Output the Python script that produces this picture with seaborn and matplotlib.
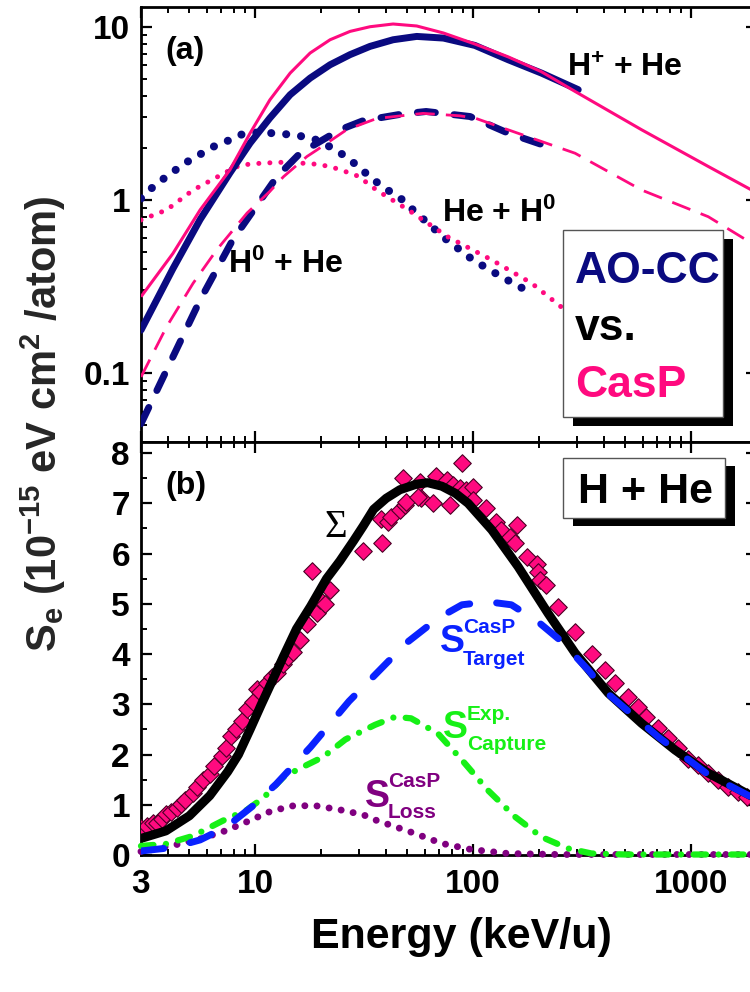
import numpy as np
import matplotlib
matplotlib.use("Agg")
import matplotlib.pyplot as plt
import seaborn as sns
from matplotlib.patches import Rectangle
from matplotlib.ticker import LogLocator, MultipleLocator, NullFormatter

# ---------------- data : panel (a) ----------------
e_hp_aocc = [3, 4.2, 5.6, 7.67, 9.5, 11.7, 14.5, 17.9, 22.1, 27.3, 33.7, 43, 55.2, 73.2, 102, 145, 206, 304]
s_hp_aocc = [0.177, 0.40, 0.77, 1.43, 2.13, 2.97, 4.05, 5.05, 6.03, 6.9, 7.7, 8.41, 8.79, 8.6, 7.8, 6.45, 5.4, 4.33]

e_hp_casp = [3, 4.2, 5.6, 7.67, 9.5, 11.7, 14.5, 17.9, 22.1, 27.3, 33.7, 43, 55.2, 73.2, 102, 145, 206, 294, 594, 1200, 2000]
s_hp_casp = [0.276, 0.49, 0.875, 1.49, 2.43, 3.78, 5.4, 7.05, 8.41, 9.4, 10.0, 10.37, 10.1, 9.2, 7.95, 6.7, 5.5, 4.23, 2.54, 1.56, 1.1]

e_h0_aocc = [3, 4.07, 5.6, 7.9, 12.6, 16.1, 24.5, 31.4, 47.8, 61, 97, 145, 229]
s_h0_aocc = [0.051, 0.114, 0.264, 0.587, 1.36, 1.86, 2.54, 2.87, 3.14, 3.24, 3.03, 2.43, 2.0]

e_h0_casp = [3, 3.93, 5.2, 6.67, 9.2, 11.7, 13.5, 17.3, 19.2, 26.3, 36.1, 59, 87, 102, 145, 294, 594, 1200, 2000]
s_h0_casp = [0.095, 0.185, 0.33, 0.514, 0.84, 1.12, 1.36, 1.78, 1.94, 2.54, 2.95, 3.16, 3.06, 2.97, 2.54, 1.86, 1.14, 0.80, 0.54]

e_he_aocc = [3, 3.48, 4.77, 6.45, 7.67, 8.6, 10.2, 11.9, 13.7, 16.1, 18.8, 21.7, 25.4, 29.8, 34.3, 40.2, 47, 54.2, 74.3, 100, 135, 185]
s_he_aocc = [1.02, 1.22, 1.63, 2.03, 2.22, 2.38, 2.45, 2.43, 2.4, 2.34, 2.24, 2.05, 1.82, 1.56, 1.33, 1.15, 1.01, 0.855, 0.60, 0.45, 0.36, 0.29]

e_he_casp = [3, 3.93, 5.2, 7.7, 8.6, 10.7, 13.5, 16.4, 18.8, 22.1, 25.9, 29.8, 32.5, 36.1, 50.5, 77, 122, 186, 255]
s_he_casp = [0.766, 0.875, 1.14, 1.49, 1.59, 1.63, 1.65, 1.63, 1.61, 1.56, 1.46, 1.37, 1.26, 1.14, 0.875, 0.61, 0.45, 0.33, 0.24]

# ---------------- data : panel (b) ----------------
e_sum = [3, 3.9, 5.0, 6.2, 7.5, 8.4, 9.5, 10.7, 12.1, 13.5, 15.5, 18.0, 21.3, 24.5, 28.3, 31.4,
         35.0, 40, 46.2, 55, 62, 72, 83, 95, 122, 161, 221, 294, 418, 594, 845, 1200, 2000]
s_sum = [0.33, 0.48, 0.78, 1.18, 1.66, 2.0, 2.5, 3.0, 3.5, 3.95, 4.5, 4.95, 5.5, 5.85, 6.25, 6.55,
         6.88, 7.1, 7.27, 7.38, 7.41, 7.34, 7.2, 7.0, 6.47, 5.74, 4.81, 4.02, 3.22, 2.62, 2.09, 1.63, 1.12]

e_target = [3, 4.2, 5.6, 7.4, 9.8, 12.5, 18, 27, 34, 40.8, 50.5, 69, 89, 117, 150, 199, 255, 338, 418, 708, 1200, 2000]
s_target = [0.08, 0.15, 0.3, 0.56, 0.98, 1.41, 2.15, 3.06, 3.5, 3.85, 4.25, 4.71, 4.98, 5.04, 4.98, 4.64, 4.25, 3.68, 3.2, 2.35, 1.6, 1.1]

e_capture = [3, 3.9, 5.2, 7.1, 9.2, 11, 13.5, 16, 20.5, 26, 35.5, 44, 52, 69, 89, 117, 156, 206, 273, 350, 500, 2000]
s_capture = [0.18, 0.22, 0.38, 0.68, 0.9, 1.15, 1.55, 1.72, 1.95, 2.3, 2.59, 2.75, 2.72, 2.42, 1.89, 1.29, 0.76, 0.36, 0.13, 0.03, 0.01, 0.01]

e_loss = [3, 4.2, 5.6, 7.3, 9.4, 11.8, 15, 19, 24.5, 31.4, 35.5, 54, 72, 98, 145, 250, 2000]
s_loss = [0.07, 0.19, 0.32, 0.48, 0.68, 0.87, 0.98, 0.98, 0.9, 0.8, 0.7, 0.43, 0.23, 0.11, 0.03, 0.01, 0.01]

exp_e = [3.0, 3.2, 3.4, 3.55, 3.75, 3.9, 4.1, 4.37, 4.6, 4.8, 5.2, 5.4, 5.8, 6.2, 6.5, 7.06, 7.4, 7.8,
         8.2, 8.7, 9.2, 9.8, 10.2, 10.5, 11.3, 12.0, 12.6, 13.5, 14.2, 15.0, 16.1, 17.3, 18.2, 19.2,
         19.9, 21.0, 22.0, 31.4, 38.1, 37.8, 40.8, 42, 46.2, 49, 48, 49.5, 57, 58, 56, 65.7, 68, 75.7,
         78.4, 81, 87, 89, 93, 100, 100, 115, 128, 135, 148, 159, 156, 176, 196, 199, 203, 217, 246,
         294, 350, 403, 448, 515, 573, 625, 708, 787, 875, 973, 1081, 1200, 1334, 1483, 1648, 1800]
exp_s = [0.53, 0.58, 0.64, 0.63, 0.72, 0.82, 0.85, 0.93, 1.02, 1.09, 1.24, 1.36, 1.49, 1.62, 1.77, 1.97, 2.12, 2.36,
         2.5, 2.67, 2.9, 3.05, 3.3, 3.25, 3.42, 3.55, 3.62, 3.81, 3.95, 4.05, 4.28, 4.6, 5.65, 4.81,
         5.07, 5.0, 5.27, 6.05, 6.2, 6.68, 6.62, 6.73, 6.87, 6.97, 7.5, 7.03, 7.42, 7.1, 7.13, 7.0, 7.55, 7.46,
         6.97, 7.36, 7.30, 7.80, 7.26, 7.33, 7.06, 6.90, 6.63, 6.47, 6.33, 6.57, 6.20, 5.94, 5.80, 5.64, 5.47, 5.37, 4.94,
         4.44, 4.01, 3.68, 3.42, 3.15, 2.95, 2.75, 2.52, 2.32, 2.12, 1.92, 1.79, 1.63, 1.49, 1.36, 1.26, 1.16]

xticks_b = [3, 10, 100, 1000]
xticklabels_b = ["3", "10", "100", "1000"]
yticks_a = [0.1, 1, 10]
yticklabels_a = ["0.1", "1", "10"]
yticks_b = [0, 1, 2, 3, 4, 5, 6, 7, 8]

# ---------------- style ----------------
NAVY = "#0a0a80"
PINK = "#ff0a7f"
BLUE = "#0a22ff"
GREEN = "#16f016"
PURPLE = "#800080"

sns.set_theme(style="ticks")
plt.rcParams.update({
    "font.family": ["Liberation Sans", "DejaVu Sans"],
    "font.weight": "bold",
    "mathtext.fontset": "custom",
    "mathtext.rm": "Liberation Sans:bold",
    "mathtext.it": "Liberation Sans:bold",
    "mathtext.bf": "Liberation Sans:bold",
    "mathtext.sf": "Liberation Sans:bold",
    "mathtext.default": "rm",
    "axes.linewidth": 2.0,
    "axes.edgecolor": "black",
    "xtick.direction": "in", "ytick.direction": "in",
    "xtick.top": True, "ytick.right": True,
    "xtick.major.size": 8, "ytick.major.size": 8,
    "xtick.minor.size": 4.5, "ytick.minor.size": 4.5,
    "xtick.major.width": 1.6, "ytick.major.width": 1.6,
    "xtick.minor.width": 1.4, "ytick.minor.width": 1.4,
    "xtick.color": "black", "ytick.color": "black",
})

W, H = 750, 992
fig = plt.figure(figsize=(7.5, 9.92), dpi=100)
L = 141 / W
AW = 615.6 / W
ax_a = fig.add_axes([L, 1 - 442 / H, AW, (442 - 7) / H])
ax_b = fig.add_axes([L, 1 - 855 / H, AW, (855 - 442) / H])

for ax in (ax_a, ax_b):
    ax.set_xscale("log")
ax_a.set_yscale("log")


def draw(ax, x, y, color, lw, ls, cap="butt", z=3, clip=True):
    sns.lineplot(x=x, y=y, ax=ax, color=color, linewidth=lw, linestyle=ls,
                 estimator=None, errorbar=None, sort=False, legend=False, zorder=z)
    ln = ax.lines[-1]
    ln.set_dash_capstyle(cap)
    ln.set_solid_capstyle(cap)
    ln.set_solid_joinstyle("round")
    ln.set_dash_joinstyle("round")
    ln.set_clip_on(clip)
    return ln


# panel (a)
draw(ax_a, e_he_aocc, s_he_aocc, NAVY, 5.8, (0, (0.01, 1.85)), cap="round")
draw(ax_a, e_he_casp, s_he_casp, PINK, 3.6, (0, (0.01, 2.2)), cap="round")
draw(ax_a, e_h0_aocc, s_h0_aocc, NAVY, 5.0, (0, (2.6, 2.7)), cap="round")
draw(ax_a, e_h0_casp, s_h0_casp, PINK, 2.0, (0, (7, 4)))
draw(ax_a, e_hp_aocc, s_hp_aocc, NAVY, 5.0, "-", cap="round")
draw(ax_a, e_hp_casp, s_hp_casp, PINK, 2.2, "-")

# panel (b)
sns.scatterplot(x=exp_e, y=exp_s, ax=ax_b, marker="D", s=80, color=PINK,
                edgecolor="#4a0025", linewidth=0.8, zorder=3, legend=False)
draw(ax_b, e_sum, s_sum, "black", 6.5, "-", cap="round", z=4)
draw(ax_b, e_loss, s_loss, PURPLE, 5.0, (0, (0.01, 1.75)), cap="round", z=5, clip=False)
draw(ax_b, e_capture, s_capture, GREEN, 4.5, (0, (2.0, 2.0, 0.01, 2.0)), cap="round", z=5, clip=False)
draw(ax_b, e_target, s_target, BLUE, 5.0, (0, (3.3, 3.9)), cap="round", z=6)

# axes limits and ticks
for ax in (ax_a, ax_b):
    ax.set_xlim(3, 2000)
    ax.xaxis.set_minor_locator(LogLocator(base=10, subs=np.arange(2, 10) * 1.0, numticks=20))
    ax.xaxis.set_minor_formatter(NullFormatter())
    ax.set_xlabel("")
    ax.set_ylabel("")
    ax.tick_params(which="both", top=True, right=True, direction="in")
    ax.tick_params(axis="both", labelsize=24, pad=8)

ax_a.set_ylim(0.04, 13)
ax_a.set_yticks(yticks_a)
ax_a.set_yticklabels(yticklabels_a)
ax_a.yaxis.set_minor_locator(LogLocator(base=10, subs=np.arange(2, 10) * 1.0, numticks=20))
ax_a.yaxis.set_minor_formatter(NullFormatter())
ax_a.set_xticks(xticks_b)
ax_a.tick_params(labelbottom=False)

ax_b.set_ylim(0, 8.22)
ax_b.set_yticks(yticks_b)
ax_b.yaxis.set_minor_locator(MultipleLocator(0.5))
ax_b.set_xticks(xticks_b)
ax_b.set_xticklabels(xticklabels_b)
ax_b.tick_params(axis="x", pad=10)

for lab in ax_a.get_yticklabels() + ax_b.get_yticklabels() + ax_b.get_xticklabels():
    lab.set_fontweight("bold")


def fx(px):
    return px / W


def fy(py):
    return 1 - py / H


def ftext(x, y, s, size, color="black", **kw):
    kw.setdefault("weight", "bold")
    return fig.text(fx(x), fy(y), s, fontsize=size, color=color, ha=kw.pop("ha", "left"),
                    va=kw.pop("va", "baseline"), zorder=kw.pop("zorder", 8), **kw)


def box(x0, y0, x1, y1, shadow=(10, 9)):
    fig.add_artist(Rectangle((fx(x0 + shadow[0]), fy(y1 + shadow[1])), (x1 - x0) / W, (y1 - y0) / H,
                             transform=fig.transFigure, facecolor="black", edgecolor="black",
                             lw=0, zorder=6))
    fig.add_artist(Rectangle((fx(x0), fy(y1)), (x1 - x0) / W, (y1 - y0) / H,
                             transform=fig.transFigure, facecolor="white", edgecolor="#555555",
                             lw=1.0, zorder=7))


# axis labels
fig.text(fx(57), fy(424), r"S$_{e}$ (10$^{-15}$ eV cm$^{2}$ /atom)", rotation=90,
         rotation_mode="anchor", ha="center", va="baseline", fontsize=30, weight="bold")
ftext(461, 948, "Energy (keV/u)", 31, ha="center")

# panel (a) annotations
ftext(165, 59, "(a)", 23)
ftext(567, 77, r"H$^{+}$ + He", 23)
ftext(442, 222, r"He + H$^{0}$", 23)
ftext(228, 273, r"H$^{0}$ + He", 23)
box(563, 230, 723, 417)
ftext(575, 283, "AO-CC", 32, NAVY)
ftext(575, 340, "vs.", 32, "black")
ftext(575, 397, "CasP", 32, PINK)

# panel (b) annotations
ftext(165, 494, "(b)", 23)
ftext(325, 537, "\u03a3", 28, family=["Liberation Serif", "DejaVu Serif"], weight="normal")
box(563, 458, 725, 518, shadow=(10, 8))
ftext(578, 503, "H + He", 31)

ftext(440, 652, "S", 27, BLUE)
ftext(463, 633, "CasP", 15, BLUE)
ftext(463, 665, "Target", 15, BLUE)

ftext(443, 738, "S", 27, GREEN)
ftext(467, 720, "Exp.", 15, GREEN)
ftext(467, 750, "Capture", 15, GREEN)

ftext(365, 807, "S", 27, PURPLE)
ftext(388, 787, "CasP", 15, PURPLE)
ftext(388, 818, "Loss", 15, PURPLE)

fig.savefig("out.png", dpi=100)
